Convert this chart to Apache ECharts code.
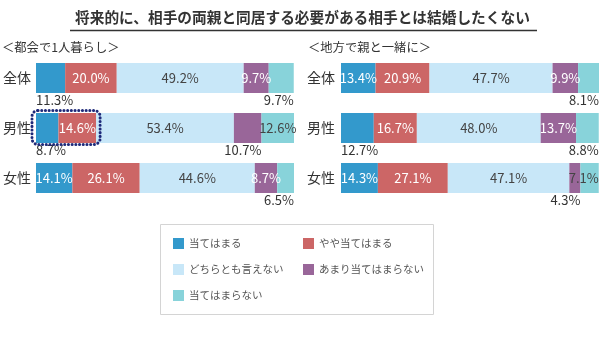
<!DOCTYPE html>
<html><head><meta charset="utf-8">
<script src="https://cdn.jsdelivr.net/npm/echarts@6/dist/echarts.min.js"></script>
<style>html,body{margin:0;padding:0;background:#fff}#c{width:600px;height:337px}</style>
</head><body><div id="c"></div>
<script>
const titleText = '将来的に、相手の両親と同居する必要がある相手とは結婚したくない';
const panelTitles = ['＜都会で1人暮らし＞', '＜地方で親と一緒に＞'];
const categories = ['全体', '男性', '女性'];
const seriesNames = ['当てはまる', 'やや当てはまる', 'どちらとも言えない', 'あまり当てはまらない', '当てはまらない'];
// 都会で1人暮らし (per series, per category)
const cityValues = [
  [11.3, 8.7, 14.1],
  [20.0, 14.6, 26.1],
  [49.2, 53.4, 44.6],
  [9.7, 10.7, 8.7],
  [9.7, 12.6, 6.5]
];
// 地方で親と一緒に
const ruralValues = [
  [13.4, 12.7, 14.3],
  [20.9, 16.7, 27.1],
  [47.7, 48.0, 47.1],
  [9.9, 13.7, 4.3],
  [8.1, 8.8, 7.1]
];

// styling
const colors = ['#3399cc', '#cc6666', '#c8e7f8', '#996699', '#88d3da'];
const labelColors = ['#fff', '#fff', '#444', '#fff', '#444'];
const FONT = '"Noto Sans CJK JP", "Noto Sans", sans-serif';
// labels drawn below the bar: key "series-category" -> alignment
const belowLabels = [
  {'0-0': 'left', '4-0': 'right', '0-1': 'left', '3-1': 'right', '4-2': 'right'},
  {'4-0': 'right', '0-1': 'left', '4-1': 'right', '3-2': 'right'}
];
const insideRight = [{}, {'4-2': true}];

function fmt(v) { return v.toFixed(1) + '%'; }

function buildSeries(values, gi) {
  return values.map((arr, si) => ({
    name: seriesNames[si],
    type: 'bar',
    stack: 'g' + gi,
    xAxisIndex: gi,
    yAxisIndex: gi,
    barWidth: 30,
    itemStyle: { color: colors[si] },
    emphasis: { disabled: true },
    label: {
      show: true, position: 'inside', color: labelColors[si],
      fontSize: 13, fontFamily: FONT, formatter: p => fmt(p.value)
    },
    data: arr.map((v, ci) => {
      const key = si + '-' + ci;
      const b = belowLabels[gi][key];
      if (b) {
        return {
          value: v,
          label: {
            position: [b === 'left' ? '0%' : '100%', '100%'],
            align: b, verticalAlign: 'top', offset: [0, 1], color: '#333'
          }
        };
      }
      if (insideRight[gi][key]) {
        return { value: v, label: { position: ['100%', '50%'], align: 'right', verticalAlign: 'middle' } };
      }
      return v;
    })
  }));
}

const chart = echarts.init(document.getElementById('c'), null, { renderer: 'canvas' });
const yAxisCommon = {
  type: 'category', data: categories, inverse: true,
  axisLine: { show: false }, axisTick: { show: false },
  axisLabel: { fontSize: 14, color: '#333', fontFamily: FONT }
};
const staticGraphics = [
  { type: 'line', z: 10, shape: { x1: 70, y1: 30.5, x2: 537, y2: 30.5 }, style: { stroke: '#333', lineWidth: 1.5 } },
  { type: 'rect', z: -1, shape: { x: 160.5, y: 224.5, width: 273, height: 90 }, style: { fill: '#fff', stroke: '#d4d4d4', lineWidth: 1 } }
];
const option = {
  animation: false,
  textStyle: { fontFamily: FONT },
  title: [
    { text: titleText, left: 75, top: 10, padding: 0,
      textStyle: { fontSize: 14.7, fontWeight: 'bold', color: '#333', fontFamily: FONT } },
    { text: panelTitles[0], left: 2, top: 41, padding: 0,
      textStyle: { fontSize: 12.3, fontWeight: 'normal', color: '#333', fontFamily: FONT } },
    { text: panelTitles[1], left: 308, top: 41, padding: 0,
      textStyle: { fontSize: 12.3, fontWeight: 'normal', color: '#333', fontFamily: FONT } }
  ],
  grid: [
    { left: 35, width: 259, top: 53, height: 150, containLabel: false },
    { left: 341, width: 258, top: 53, height: 150, containLabel: false }
  ],
  xAxis: [
    { type: 'value', gridIndex: 0, min: 0, max: 100, show: false },
    { type: 'value', gridIndex: 1, min: 0, max: 100, show: false }
  ],
  yAxis: [
    Object.assign({ gridIndex: 0 }, yAxisCommon, { axisLabel: Object.assign({}, yAxisCommon.axisLabel, { margin: 5 }) }),
    Object.assign({ gridIndex: 1 }, yAxisCommon, { axisLabel: Object.assign({}, yAxisCommon.axisLabel, { margin: 6 }) })
  ],
  legend: [
    { data: [seriesNames[0], seriesNames[2], seriesNames[4]], orient: 'vertical', left: 173, top: 238,
      padding: 0, itemGap: 15, itemWidth: 11, itemHeight: 11, icon: 'rect', selectedMode: false,
      textStyle: { fontSize: 10.5, color: '#555', fontFamily: FONT } },
    { data: [seriesNames[1], seriesNames[3]], orient: 'vertical', left: 303, top: 238,
      padding: 0, itemGap: 15, itemWidth: 11, itemHeight: 11, icon: 'rect', selectedMode: false,
      textStyle: { fontSize: 10.5, color: '#555', fontFamily: FONT } }
  ],
  graphic: staticGraphics,
  series: buildSeries(cityValues, 0).concat(buildSeries(ruralValues, 1))
};
chart.setOption(option);

// highlight box around 男性 (city) first two segments
const p0 = chart.convertToPixel({ gridIndex: 0 }, [0, 1]);
const p1 = chart.convertToPixel({ gridIndex: 0 }, [cityValues[0][1] + cityValues[1][1], 1]);
chart.setOption({
  graphic: staticGraphics.concat([
    { type: 'rect', z: 20,
      shape: { x: p0[0] - 4, y: p0[1] - 17.5, width: p1[0] - p0[0] + 8, height: 34, r: 6 },
      style: { fill: 'none', stroke: '#1f2a7a', lineWidth: 3, lineDash: [0.1, 3.6], lineCap: 'round' } }
  ])
});
</script>
</body></html>
